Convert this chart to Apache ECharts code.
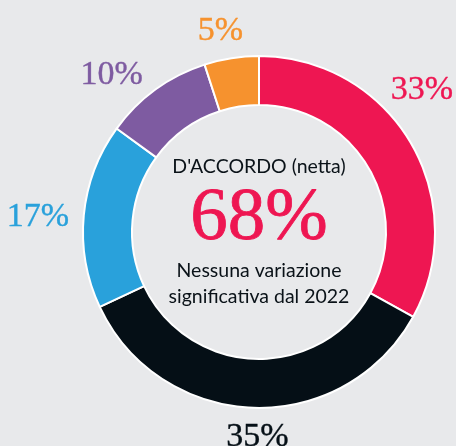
<!DOCTYPE html>
<html lang="it">
<head>
<meta charset="utf-8">
<title>D'accordo</title>
<script src="https://cdn.jsdelivr.net/npm/echarts@6/dist/echarts.min.js"></script>
<style>
* { margin: 0; padding: 0; }
body { background: #e8e9eb; }
#chart { width: 456px; height: 446px; }
</style>
</head>
<body>
<div id="chart"></div>
<script>
// slices clockwise from 12 o'clock
var categories = ['Molto d\'accordo', 'Abbastanza d\'accordo', 'Né d\'accordo né in disaccordo', 'In disaccordo', 'Non so'];
var values = [33, 35, 17, 10, 5];
var colors = ['#ee1652', '#050f16', '#29a1db', '#7e5ba1', '#f6922e'];
var netTotal = 68;

var chart = echarts.init(document.getElementById('chart'));

var cx = 259, cy = 232, labelR = 208;
// small hand nudges so the labels sit where the original puts them
var nudge = [[-16, -36], [5, -3], [-14, 5], [-25, 11], [-6, 5]];

var total = values.reduce(function (a, b) { return a + b; }, 0);
var cum = [];
values.reduce(function (acc, v, i) { cum[i] = acc; return acc + v; }, 0);

chart.setOption({
  backgroundColor: '#e8e9eb',
  animation: false,
  series: [{
    type: 'pie',
    center: [cx, cy],
    radius: [127, 176],
    startAngle: 90,
    clockwise: true,
    itemStyle: { borderColor: '#ffffff', borderWidth: 2 },
    label: {
      show: true,
      position: 'outside',
      formatter: '{c}%',
      fontFamily: '"Liberation Serif", serif',
      fontSize: 34,
      overflow: 'none'
    },
    labelLine: { show: false },
    labelLayout: function (p) {
      var i = p.dataIndex;
      var a = (90 - (cum[i] + values[i] / 2) / total * 360) * Math.PI / 180;
      return {
        x: cx + labelR * Math.cos(a) + nudge[i][0],
        y: cy - labelR * Math.sin(a) + nudge[i][1],
        align: 'center',
        verticalAlign: 'middle'
      };
    },
    data: categories.map(function (c, i) {
      return {
        name: c, value: values[i],
        itemStyle: { color: colors[i] },
        label: { color: colors[i], textBorderColor: colors[i], textBorderWidth: 0.4 }
      };
    })
  }],
  graphic: [
    { type: 'text', x: cx, y: 167, style: { text: 'D\'ACCORDO (netta)', fontFamily: 'Lato', fontSize: 19.5, fill: '#0a1218', align: 'center', verticalAlign: 'middle' } },
    { type: 'text', x: cx, y: 219, style: { text: netTotal + '%', fontFamily: '"Liberation Serif", serif', fontSize: 75, fill: '#ee1652', stroke: '#ee1652', lineWidth: 0.8, align: 'center', verticalAlign: 'middle' } },
    { type: 'text', x: cx, y: 271, style: { text: 'Nessuna variazione', fontFamily: 'Lato', fontSize: 19.5, fill: '#0a1218', align: 'center', verticalAlign: 'middle' } },
    { type: 'text', x: cx, y: 297, style: { text: 'significativa dal 2022', fontFamily: 'Lato', fontSize: 19.5, fill: '#0a1218', align: 'center', verticalAlign: 'middle' } }
  ]
});
</script>
</body>
</html>
